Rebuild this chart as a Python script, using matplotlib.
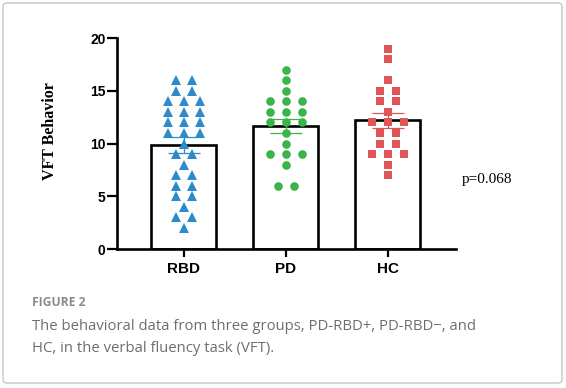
import numpy as np
import matplotlib.pyplot as plt
from matplotlib.patches import FancyBboxPatch

# values (score: number of points at that score)
groups = ['RBD', 'PD', 'HC']
rbd_scores = [16, 16, 15, 15, 14, 14, 14, 13, 13, 13, 12, 12, 12, 11, 11, 11,
              10, 9, 9, 8, 7, 7, 6, 6, 5, 5, 4, 3, 3, 2]
pd_scores = [17, 16, 15, 14, 14, 14, 13, 13, 13, 12, 12, 12, 11, 10,
             9, 9, 9, 8, 6, 6]
hc_scores = [19, 18, 16, 15, 15, 14, 14, 13, 12, 12, 12, 11, 11, 10, 10,
             9, 9, 9, 8, 7]
p_text = 'p=0.068'

colors = ['#2b8bcc', '#3bb44a', '#e05555']
markers = ['^', 'o', 's']
msizes = [7.8, 6.2, 5.7]


def swarm_offsets(values, step=0.157):
    values = np.asarray(values)
    offs = np.zeros(len(values))
    for v in np.unique(values):
        idx = np.where(values == v)[0]
        n = len(idx)
        offs[idx] = (np.arange(n) - (n - 1) / 2) * step
    return offs


fig = plt.figure(figsize=(5.66, 3.88), dpi=100)
ax = fig.add_axes([0.2062, 0.358, 0.5995, 0.544])

data = [rbd_scores, pd_scores, hc_scores]
means = [np.mean(d) for d in data]
sems = [np.std(d, ddof=1) / np.sqrt(len(d)) for d in data]
xs = np.arange(len(groups))

ax.bar(xs, means, width=0.64, color='white', edgecolor='black',
       linewidth=1.9, zorder=1)

for i, d in enumerate(data):
    ax.plot(xs[i] + swarm_offsets(d), d, linestyle='none', marker=markers[i],
            markersize=msizes[i], color=colors[i], markeredgewidth=0, zorder=3)
    ax.errorbar(xs[i], means[i], yerr=sems[i], color=colors[i], capsize=11.5,
                elinewidth=0.9, capthick=0.9, zorder=4)

ax.set_xlim(-0.655, 2.67)
ax.set_ylim(0, 20)
ax.set_yticks([0, 5, 10, 15, 20])
ax.set_xticks(xs)
ax.set_xticklabels(groups)

for s in ['top', 'right']:
    ax.spines[s].set_visible(False)
for s in ['left', 'bottom']:
    ax.spines[s].set_linewidth(1.9)

ax.tick_params(axis='y', length=7, width=1.6, pad=1,
               labelsize=10, direction='out')
ax.tick_params(axis='x', length=6, width=1.6, pad=3, labelsize=11)
for lab in ax.get_xticklabels() + ax.get_yticklabels():
    lab.set_fontweight('bold')
    lab.set_family('Liberation Sans')

ax.set_ylabel('VFT Behavior', family='Liberation Serif', fontweight='bold',
              fontsize=11.5, va='center')
ax.yaxis.set_label_coords(-0.197, 0.56)

fig.text(462 / 566, 1 - 180 / 388, p_text, family='Liberation Serif',
         fontsize=11, va='center', ha='left')

# caption and frame
fig.text(32 / 566, 1 - 303 / 388, 'FIGURE 2', family='Open Sans',
         fontweight='bold', fontsize=8.7, color='#8a8a8a', va='center')
fig.text(32 / 566, 1 - 327 / 388,
         'The behavioral data from three groups, PD-RBD+, PD-RBD\u2212, and',
         family='Open Sans', fontsize=10.7, color='#6e6e6e', va='center')
fig.text(32 / 566, 1 - 348 / 388,
         'HC, in the verbal fluency task (VFT).',
         family='Open Sans', fontsize=10.7, color='#6e6e6e', va='center')

frame = FancyBboxPatch((3 / 566, 5 / 388), 559 / 566, 380 / 388,
                       boxstyle='round,pad=0,rounding_size=0.008',
                       transform=fig.transFigure, facecolor='none',
                       edgecolor='#c6c6c6', linewidth=1.0)
fig.patches.append(frame)

fig.savefig('out.png', dpi=100)
